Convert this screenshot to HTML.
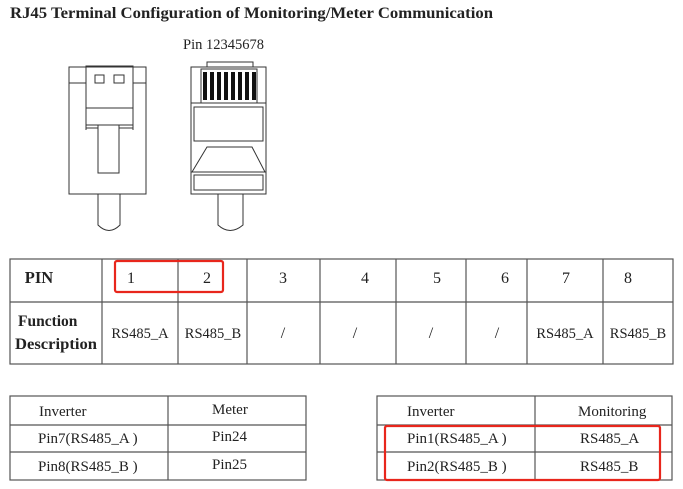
<!DOCTYPE html>
<html><head><style>
html,body{margin:0;padding:0;background:#fff}
svg{display:block}
text{font-family:"Liberation Serif",serif;fill:#222}
</style></head><body>
<svg width="683" height="489" viewBox="0 0 683 489" xmlns="http://www.w3.org/2000/svg">
<text x="10" y="18" font-size="15.5" font-weight="bold" textLength="483" lengthAdjust="spacingAndGlyphs">RJ45 Terminal Configuration of Monitoring/Meter Communication</text>
<text x="183" y="49" font-size="14.5">Pin 12345678</text>
<g fill="none" stroke="#333" stroke-width="1">
<rect x="69" y="67" width="77" height="127"/>
<line x1="69" y1="83" x2="86" y2="83"/><line x1="133" y1="83" x2="146" y2="83"/>
<path d="M86 67 V66 H133 V67 M86 67 V130 M133 67 V130"/>
<rect x="95" y="75" width="9" height="8"/><rect x="114" y="75" width="10" height="8"/>
<line x1="86" y1="108" x2="133" y2="108"/>
<path d="M86 125 H98 M119 125 H133 M86 128 H98 M119 128 H133"/>
<rect x="98" y="125" width="21" height="48"/>
<path d="M98 194 V225 Q109 236 120 225 V194"/>
<rect x="191" y="67" width="75" height="127"/>
<path d="M207 67 V62 H253 V67"/>
<rect x="194" y="107" width="69" height="34"/>
<path d="M207 147 H252 L265 172 H192 Z"/>
<rect x="194" y="175" width="69" height="15"/>
<path d="M218 194 V225 Q230 236 243 225 V194"/>
<line x1="191" y1="103" x2="266" y2="103"/>
<rect x="201" y="69" width="56" height="34"/>
</g>
<g fill="#111">
<rect x="203" y="72" width="4" height="28"/><rect x="210" y="72" width="4" height="28"/>
<rect x="217" y="72" width="4" height="28"/><rect x="224" y="72" width="4" height="28"/>
<rect x="231" y="72" width="4" height="28"/><rect x="238" y="72" width="4" height="28"/>
<rect x="245" y="72" width="4" height="28"/><rect x="252" y="72" width="4" height="28"/>
</g>
<g fill="none" stroke="#555" stroke-width="1.2">
<rect x="10" y="259" width="663" height="105"/>
<line x1="10" y1="302" x2="673" y2="302"/>
<line x1="102" y1="259" x2="102" y2="364"/><line x1="178" y1="259" x2="178" y2="364"/>
<line x1="247" y1="259" x2="247" y2="364"/><line x1="320" y1="259" x2="320" y2="364"/>
<line x1="396" y1="259" x2="396" y2="364"/><line x1="466" y1="259" x2="466" y2="364"/>
<line x1="527" y1="259" x2="527" y2="364"/><line x1="603" y1="259" x2="603" y2="364"/>
</g>
<g font-size="16" text-anchor="middle">
<text x="39" y="283" font-weight="bold" font-size="16.5">PIN</text>
<text x="131" y="283">1</text><text x="207" y="283">2</text><text x="283" y="283">3</text>
<text x="365" y="283">4</text><text x="437" y="283">5</text><text x="505" y="283">6</text>
<text x="566" y="283">7</text><text x="628" y="283">8</text>
<text x="140" y="338" font-size="14.5">RS485_A</text><text x="213" y="338" font-size="14.5">RS485_B</text>
<text x="283" y="338">/</text><text x="355" y="338">/</text><text x="431" y="338">/</text><text x="497" y="338">/</text>
<text x="565" y="338" font-size="14.5">RS485_A</text><text x="638" y="338" font-size="14.5">RS485_B</text>
</g>
<text x="18" y="326" font-size="15.5" font-weight="bold">Function</text>
<text x="15" y="349" font-size="15.5" font-weight="bold" textLength="82" lengthAdjust="spacingAndGlyphs">Description</text>
<rect x="115" y="261" width="108" height="31" rx="2" fill="none" stroke="#e8261c" stroke-width="2.2"/>
<g fill="none" stroke="#555" stroke-width="1.2">
<rect x="10" y="396" width="296" height="84"/>
<line x1="168" y1="396" x2="168" y2="480"/>
<line x1="10" y1="425" x2="306" y2="425"/><line x1="10" y1="452" x2="306" y2="452"/>
<rect x="377" y="396" width="295" height="84"/>
<line x1="535" y1="396" x2="535" y2="480"/>
<line x1="377" y1="425" x2="672" y2="425"/><line x1="377" y1="452" x2="672" y2="452"/>
</g>
<g font-size="15">
<text x="39" y="416">Inverter</text><text x="212" y="414">Meter</text>
<text x="38" y="443">Pin7(RS485_A )</text><text x="212" y="441">Pin24</text>
<text x="38" y="471">Pin8(RS485_B )</text><text x="212" y="469">Pin25</text>
<text x="407" y="416">Inverter</text><text x="578" y="416">Monitoring</text>
<text x="407" y="443">Pin1(RS485_A )</text><text x="580" y="443">RS485_A</text>
<text x="407" y="471">Pin2(RS485_B )</text><text x="580" y="471">RS485_B</text>
</g>
<rect x="385" y="426" width="275" height="54" rx="2" fill="none" stroke="#e8261c" stroke-width="2.2"/>
</svg>
</body></html>
